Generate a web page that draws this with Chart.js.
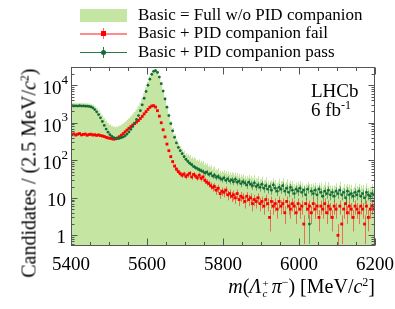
<!DOCTYPE html>
<html>
<head>
<meta charset="utf-8">
<script src="https://cdn.jsdelivr.net/npm/chart.js@4/dist/chart.umd.min.js"></script>
<style>
  html, body { margin: 0; padding: 0; background: #fff; }
  #wrap { position: relative; width: 395px; height: 309px; font-family: "Liberation Serif", "Times New Roman", serif; color: #000; }
  #wrap canvas { position: absolute; left: 0; top: 0; }
  .txt { position: absolute; white-space: nowrap; }
  .leg { font-size: 17px; line-height: 20px; left: 138px; }
  .sym { position: absolute; }
  sup { font-size: 12px; vertical-align: 0; position: relative; top: -0.55em; }
</style>
</head>
<body>
<div id="wrap">
  <canvas id="chart" width="395" height="309" style="width:395px;height:309px"></canvas>

  <!-- legend -->
  <div class="sym" style="left:80px;top:9px;width:47px;height:13px;background:#c4e6a2"></div>
  <div class="txt leg" style="top:5px">Basic = Full w/o PID companion</div>

  <div class="sym" style="left:80px;top:33px;width:47px;height:1.5px;background:rgba(255,0,0,0.45)"></div>
  <div class="sym" style="left:103px;top:28px;width:1px;height:11px;background:rgba(255,0,0,0.6)"></div>
  <div class="sym" style="left:101px;top:31px;width:5px;height:5px;background:#ff0000"></div>
  <div class="txt leg" style="top:23px">Basic + PID companion fail</div>

  <div class="sym" style="left:80px;top:52px;width:47px;height:1px;background:#2a7a4a"></div>
  <div class="sym" style="left:103px;top:47px;width:1px;height:11px;background:#2a7a4a"></div>
  <div class="sym" style="left:101px;top:50px;width:5px;height:5px;border-radius:50%;background:#16693a"></div>
  <div class="txt leg" style="top:42px">Basic + PID companion pass</div>

  <!-- experiment label -->
  <div class="txt" style="left:311px;top:80px;font-size:19px;line-height:22px">LHCb</div>
  <div class="txt" style="left:311px;top:99px;font-size:19px;line-height:22px">6 fb<sup>-1</sup></div>

  <!-- axis titles -->
  <div class="txt" style="left:-80px;top:166px;width:220px;text-align:right;font-size:20px;line-height:22px;transform:rotate(-90deg);transform-origin:50% 50%">Candidates / (2.5 MeV/<i>c</i><sup>2</sup>)</div>
  <div class="txt" style="right:20px;top:275px;font-size:20px;line-height:22px"><i>m</i>(<i>Λ</i><span style="display:inline-block;vertical-align:-4px;font-size:11px;line-height:10px;margin:0 3px 0 1px"><span style="display:block">+</span><span style="display:block"><i>c</i></span></span><i>π</i><sup>−</sup>) [MeV/<i>c</i><sup>2</sup>]</div>
</div>

<script>
// bin centres, 5 MeV steps over the 5400-6200 window
const binLow = 5400;
const binWidth = 5;
const massBins = Array.from({ length: 160 }, (_, i) => binLow + binWidth * (i + 0.5));

// Basic = Full w/o PID companion
const basicCounts = [
  3350, 3300, 3320, 3260, 3380, 3270, 3300, 3280, 3230, 3200,
  3130, 2980, 2730, 2420, 2120, 1810, 1530, 1290, 1100, 960,
  870, 810, 770, 760, 780, 810, 870, 940, 1030, 1150,
  1290, 1470, 1680, 1940, 2270, 2720, 3420, 4500, 6250, 8800,
  12300, 17100, 22300, 26400, 27100, 24100, 18000, 12000, 7650, 4720,
  2870, 1730, 1075, 700, 480, 350, 270, 225, 190, 168,
  143, 134, 128, 112, 110, 102, 94, 96, 86, 86,
  75, 74, 66, 65, 57, 60, 51, 55, 46, 46,
  48, 45, 44, 41, 41, 39, 41, 39, 37, 35,
  37, 33, 33, 35, 33, 28, 34, 28, 32, 26,
  31, 24, 30, 24, 23, 24, 28, 25, 20, 27,
  23, 28, 19, 26, 20, 24, 23, 19, 21, 22,
  23, 20, 18, 19, 22, 19, 19, 20, 21, 18,
  20, 20, 16, 22, 17, 22, 17, 17, 17, 20,
  14, 22, 14, 19, 17, 19, 18, 18, 14, 20,
  17, 19, 17, 18, 12, 20, 15, 16, 19, 17
];

// Basic + PID companion fail
const failCounts = [
  480, 505, 470, 495, 515, 475, 490, 500, 465, 485,
  495, 470, 480, 460, 475, 455, 445, 430, 410, 395,
  385, 375, 365, 375, 395, 425, 465, 515, 575, 640,
  710, 790, 870, 950, 1040, 1150, 1300, 1480, 1720, 1980,
  2280, 2580, 2800, 2850, 2620, 2100, 1500, 1000, 650, 420,
  270, 180, 125, 92, 70, 58, 50, 44, 40, 43,
  37, 41, 45, 36, 42, 38, 34, 40, 33, 36,
  29, 26, 24, 21, 19, 20, 16, 18, 13, 15,
  14, 16, 12, 13, 11, 12, 10, 13, 9, 11,
  10, 8, 11, 9, 10, 7, 9, 8, 10, 7,
  8, 6, 9, 7, 3, 8, 6, 7, 5, 8,
  6, 7, 4, 8, 6, 5, 7, 6, 4, 7,
  5, 6, 2, 7, 5, 6, 4, 7, 5, 6,
  3, 6, 5, 7, 4, 6, 5, 3, 6, 5,
  1, 6, 2, 5, 7, 4, 6, 5, 3, 6,
  5, 4, 6, 5, 2, 6, 3, 5, 6, 5
];

// Basic + PID companion pass
const passCounts = [
  2850, 2800, 2830, 2780, 2840, 2790, 2810, 2770, 2760, 2720,
  2640, 2500, 2250, 1950, 1650, 1350, 1080, 850, 680, 560,
  480, 430, 400, 385, 380, 385, 400, 420, 450, 500,
  570, 670, 800, 980, 1220, 1550, 2100, 3000, 4500, 6800,
  10000, 14500, 19500, 23500, 24500, 22000, 16500, 11000, 7000, 4300,
  2600, 1550, 950, 610, 410, 290, 220, 180, 150, 125,
  106, 93, 83, 76, 68, 64, 60, 56, 53, 50,
  46, 48, 42, 44, 38, 40, 35, 37, 33, 31,
  34, 29, 32, 28, 30, 27, 31, 26, 28, 24,
  27, 25, 22, 26, 23, 21, 25, 20, 22, 19,
  23, 18, 21, 17, 20, 16, 22, 18, 15, 19,
  17, 21, 15, 18, 14, 19, 16, 13, 17, 15,
  18, 14, 16, 12, 17, 2, 15, 13, 16, 12,
  17, 14, 11, 15, 13, 16, 12, 14, 11, 15,
  13, 16, 12, 14, 10, 15, 12, 13, 11, 14,
  12, 15, 11, 13, 10, 14, 12, 11, 13, 12
];

const xTickLabels = [5400, 5600, 5800, 6000, 6200];
const xMinorStep = 50;
const yTickLabels = [1, 10, 100, 1000, 10000];

const fillColor = '#c4e6a2';
const frameColor = '#555';

const toPoints = (counts) => massBins.map((m, i) => ({ x: m, y: counts[i] }));

// ROOT-like frame: inward ticks on all four sides, labels with superscripts
const rootFrame = {
  id: 'rootFrame',
  beforeDatasetDraw(chart, args) {
    const ds = chart.data.datasets[args.index];
    if (!ds.errorColor) return;
    const { ctx, chartArea: a, scales: { x, y } } = chart;
    ctx.save();
    ctx.beginPath();
    ctx.rect(a.left, a.top, a.right - a.left, a.bottom - a.top);
    ctx.clip();
    ctx.strokeStyle = ds.errorColor;
    ctx.lineWidth = 1;
    ctx.beginPath();
    ds.data.forEach(p => {
      const err = Math.sqrt(p.y);
      const px = Math.round(x.getPixelForValue(p.x)) + 0.5;
      const lo = p.y - err > y.min ? y.getPixelForValue(p.y - err) : a.bottom;
      const hi = y.getPixelForValue(p.y + err);
      ctx.moveTo(px, lo);
      ctx.lineTo(px, hi);
    });
    ctx.stroke();
    ctx.restore();
  },
  afterDraw(chart) {
    const { ctx, chartArea: a, scales: { x, y } } = chart;
    ctx.save();
    ctx.strokeStyle = frameColor;
    ctx.lineWidth = 1;
    const L = a.left + 0.5, R = a.right - 0.5, T = a.top + 0.5, B = a.bottom - 0.5;
    ctx.strokeRect(L, T, R - L, B - T);

    ctx.beginPath();
    for (let v = x.min; v <= x.max; v += xMinorStep) {
      const px = Math.round(x.getPixelForValue(v)) + 0.5;
      const len = xTickLabels.includes(v) ? 7 : 3.5;
      ctx.moveTo(px, B); ctx.lineTo(px, B - len);
      ctx.moveTo(px, T); ctx.lineTo(px, T + len);
    }
    for (let d = 0.1; d <= 10000; d *= 10) {
      for (let k = 1; k <= 9; k++) {
        const v = k * d;
        if (v < y.min || v > y.max) continue;
        const py = Math.round(y.getPixelForValue(v)) + 0.5;
        const len = k === 1 ? 6 : 3;
        ctx.moveTo(L, py); ctx.lineTo(L + len, py);
        ctx.moveTo(R, py); ctx.lineTo(R - len, py);
      }
    }
    ctx.stroke();

    ctx.fillStyle = '#000';
    ctx.font = '19px "Liberation Serif"';
    ctx.textAlign = 'center';
    ctx.textBaseline = 'alphabetic';
    xTickLabels.forEach(v => ctx.fillText(String(v), x.getPixelForValue(v), a.bottom + 24));

    ctx.textAlign = 'right';
    yTickLabels.forEach(v => {
      const py = y.getPixelForValue(v);
      if (v < 100) {
        ctx.font = '19px "Liberation Serif"';
        ctx.fillText(String(v), a.left - 5, py + 8);
      } else {
        const exp = String(Math.round(Math.log10(v)));
        ctx.font = '13px "Liberation Serif"';
        const w = ctx.measureText(exp).width;
        ctx.fillText(exp, a.left - 3, py - 1.5);
        ctx.font = '19px "Liberation Serif"';
        ctx.fillText('10', a.left - 3 - w, py + 9);
      }
    });
    ctx.restore();
  }
};

new Chart(document.getElementById('chart'), {
  type: 'line',
  data: {
    datasets: [
      {
        label: 'Basic + PID companion pass',
        data: toPoints(passCounts),
        showLine: false,
        pointStyle: 'circle',
        pointRadius: 1.4,
        pointBorderWidth: 0,
        pointBackgroundColor: '#16693a',
        errorColor: 'rgba(22,105,58,0.55)',
        order: 0
      },
      {
        label: 'Basic + PID companion fail',
        data: toPoints(failCounts),
        showLine: false,
        pointStyle: 'rect',
        pointRadius: 2,
        pointBorderWidth: 0,
        pointBackgroundColor: '#ff0000',
        errorColor: 'rgba(255,0,0,0.5)',
        order: 1
      },
      {
        label: 'Basic = Full w/o PID companion',
        data: toPoints(basicCounts),
        stepped: 'middle',
        fill: 'start',
        backgroundColor: fillColor,
        borderWidth: 0,
        pointRadius: 0,
        errorColor: fillColor,
        order: 2
      }
    ]
  },
  options: {
    responsive: false,
    devicePixelRatio: 1,
    animation: false,
    events: [],
    layout: { padding: { left: 71, right: 20, top: 67, bottom: 63 } },
    plugins: { legend: { display: false }, tooltip: { enabled: false } },
    scales: {
      x: { type: 'linear', display: false, min: 5400, max: 6200 },
      y: { type: 'logarithmic', display: false, min: 0.52, max: 30600 }
    }
  },
  plugins: [rootFrame]
});
</script>
</body>
</html>
